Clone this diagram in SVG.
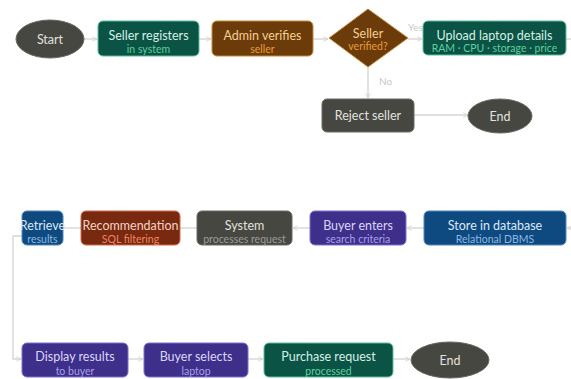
<svg xmlns="http://www.w3.org/2000/svg" width="571" height="379" viewBox="0 0 571 379">
<style>
.t{font-family:Lato,"Noto Sans",sans-serif;font-size:12.5px;text-anchor:middle}
.s{font-family:Lato,"Noto Sans",sans-serif;font-size:10.5px;text-anchor:middle}
.lbl{font-family:Lato,"Noto Sans",sans-serif;font-size:10px;fill:#c9c9c3}
.c{fill:none;stroke:#d6d6d0;stroke-width:1.4}
.grey{fill:#474742;stroke:#6a6a64;stroke-width:1}
.green{fill:#0b5345;stroke:#5cbf9c;stroke-width:1}
.brown{fill:#6b3b09;stroke:#c8893a;stroke-width:1}
.blue{fill:#0e4a7f;stroke:#4f86c0;stroke-width:1}
.rust{fill:#78290f;stroke:#d06a48;stroke-width:1}
.purple{fill:#3d2f8a;stroke:#7d70d0;stroke-width:1}
.tg{fill:#e2e2de}.sg{fill:#9c9c96}
.tgr{fill:#d3f0e4}.sgr{fill:#5fd09d}
.tbr{fill:#f6cf92}.sbr{fill:#e89b3a}
.tbl{fill:#dbe8f7}.sbl{fill:#8db6e3}
.tru{fill:#f6d3c6}.sru{fill:#f08464}
.tpu{fill:#dcd6f6}.spu{fill:#aaa0e6}
</style>
<defs>
<marker id="ah" viewBox="0 0 10 10" refX="9" refY="5" markerWidth="6" markerHeight="6" orient="auto-start-reverse" markerUnits="userSpaceOnUse">
<path d="M1,1 L9,5 L1,9" fill="none" stroke="#d6d6d0" stroke-width="1.5"/>
</marker>
</defs>
<g id="connectors">
<line class="c" x1="84" y1="39" x2="97" y2="39" marker-end="url(#ah)"/>
<line class="c" x1="199" y1="39" x2="211" y2="39" marker-end="url(#ah)"/>
<line class="c" x1="313" y1="39" x2="328" y2="39" marker-end="url(#ah)"/>
<line class="c" x1="408" y1="39" x2="422" y2="39" marker-end="url(#ah)"/>
<text class="lbl" x="408" y="31">Yes</text>
<line class="c" x1="368" y1="67" x2="368" y2="98" marker-end="url(#ah)"/>
<text class="lbl" x="379" y="85">No</text>
<line class="c" x1="414" y1="115" x2="468" y2="115" marker-end="url(#ah)"/>
<line class="c" x1="566" y1="39" x2="571" y2="39"/>
<line class="c" x1="571" y1="228" x2="567" y2="228" marker-end="url(#ah)"/>
<line class="c" x1="424" y1="228" x2="407" y2="228" marker-end="url(#ah)"/>
<line class="c" x1="310" y1="228" x2="293" y2="228" marker-end="url(#ah)"/>
<line class="c" x1="197" y1="228" x2="180" y2="228"/>
<line class="c" x1="81" y1="228" x2="64" y2="228"/>
<polyline class="c" points="22,236 13,236 13,359 21,359" marker-end="url(#ah)"/>
<line class="c" x1="128" y1="359" x2="143" y2="359" marker-end="url(#ah)"/>
<line class="c" x1="248" y1="359" x2="263" y2="359" marker-end="url(#ah)"/>
<line class="c" x1="393" y1="359" x2="410" y2="359" marker-end="url(#ah)"/>
</g>
<g id="start"><ellipse class="grey" cx="50" cy="39" rx="34" ry="19"/><text class="t tg" x="50" y="43.5">Start</text></g>
<g id="seller-registers"><rect class="green" x="98" y="21" width="101" height="35" rx="5"/><text class="t tgr" x="148.5" y="39.5">Seller registers</text><text class="s sgr" x="148.5" y="52.5">in system</text></g>
<g id="admin-verifies"><rect class="brown" x="212" y="21" width="101" height="35" rx="5"/><text class="t tbr" x="262.5" y="39.5">Admin verifies</text><text class="s sbr" x="262.5" y="52.5">seller</text></g>
<g id="seller-verified"><polygon class="brown" points="368,9 408,38 368,67 329,38"/><text class="t tbr" x="368" y="37.5">Seller</text><text class="s sbr" x="368" y="50">verified?</text></g>
<g id="upload-details"><rect class="green" x="423" y="21" width="143" height="34" rx="5"/><text class="t tgr" x="494.5" y="39.5">Upload laptop details</text><text class="s sgr" x="494.5" y="52">RAM · CPU · storage · price</text></g>
<g id="reject-seller"><rect class="grey" x="322" y="99" width="92" height="33" rx="5"/><text class="t tg" x="368" y="119.5">Reject seller</text></g>
<g id="end1"><ellipse class="grey" cx="500" cy="116" rx="32" ry="17"/><text class="t tg" x="500" y="120.5">End</text></g>
<g id="store-db"><rect class="blue" x="424" y="211" width="142" height="34" rx="5"/><text class="t tbl" x="495" y="229.5">Store in database</text><text class="s sbl" x="495" y="243">Relational DBMS</text></g>
<g id="buyer-enters"><rect class="purple" x="310" y="211" width="96" height="34" rx="5"/><text class="t tpu" x="358" y="229.5">Buyer enters</text><text class="s spu" x="358" y="243">search criteria</text></g>
<g id="system"><rect class="grey" x="197" y="211" width="95" height="34" rx="5"/><text class="t tg" x="244.5" y="229.5">System</text><text class="s sg" x="244.5" y="243">processes request</text></g>
<g id="recommendation"><rect class="rust" x="81" y="211" width="99" height="34" rx="5"/><text class="t tru" x="130.5" y="229.5">Recommendation</text><text class="s sru" x="130.5" y="243">SQL filtering</text></g>
<g id="retrieve"><rect class="blue" x="22" y="211" width="41" height="34" rx="5"/><text class="t tbl" x="42.5" y="229.5">Retrieve</text><text class="s sbl" x="42.5" y="243">results</text></g>
<g id="display-results"><rect class="purple" x="22" y="343" width="106" height="34" rx="5"/><text class="t tpu" x="75" y="361">Display results</text><text class="s spu" x="75" y="374.5">to buyer</text></g>
<g id="buyer-selects"><rect class="purple" x="144" y="343" width="104" height="34" rx="5"/><text class="t tpu" x="196" y="361">Buyer selects</text><text class="s spu" x="196" y="374.5">laptop</text></g>
<g id="purchase-request"><rect class="green" x="264" y="343" width="129" height="34" rx="5"/><text class="t tgr" x="328.5" y="361">Purchase request</text><text class="s sgr" x="328.5" y="374.5">processed</text></g>
<g id="end2"><ellipse class="grey" cx="450" cy="360" rx="39" ry="18"/><text class="t tg" x="450" y="364.5">End</text></g>
</svg>
